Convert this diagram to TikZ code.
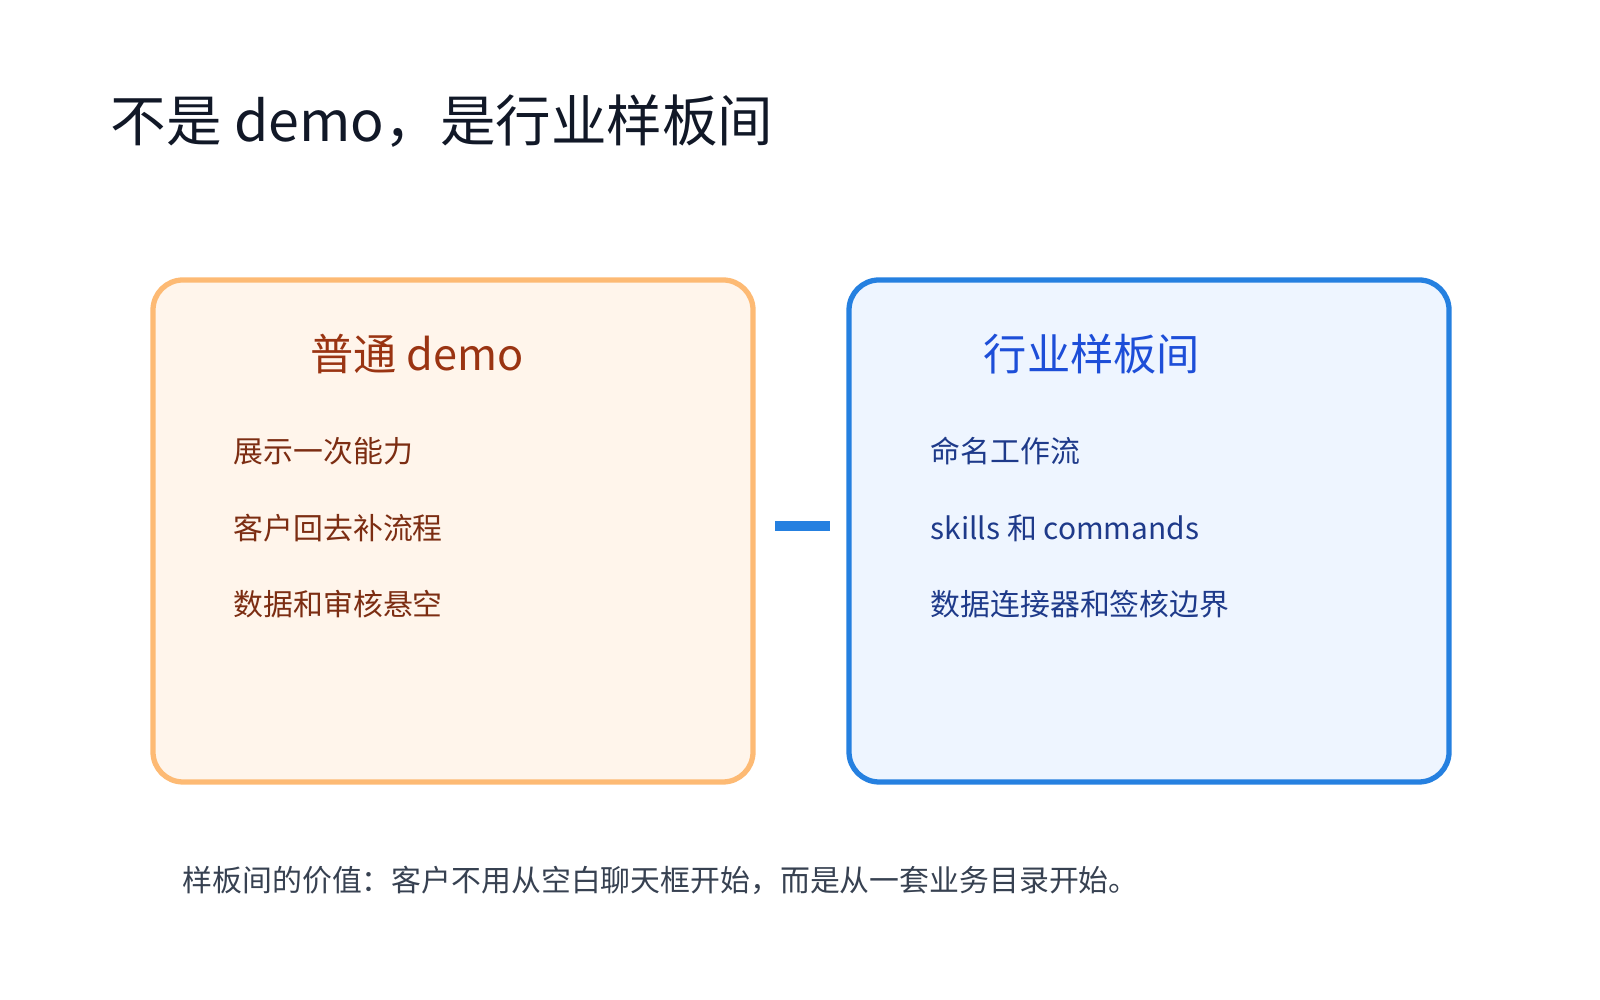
\documentclass[tikz,border=0pt]{standalone}
\usepackage{fontspec}
\setmainfont{Noto Sans CJK SC}
\definecolor{obord}{HTML}{FDBA74}
\definecolor{ofill}{HTML}{FFF5EB}
\definecolor{ohead}{HTML}{9A3412}
\definecolor{oitem}{HTML}{7C2D12}
\definecolor{bbord}{HTML}{2580E0}
\definecolor{bfill}{HTML}{EEF5FF}
\definecolor{bhead}{HTML}{1D4ED8}
\definecolor{bitem}{HTML}{1E3A8A}
\definecolor{titlec}{HTML}{111827}
\definecolor{footc}{HTML}{374151}
\tikzset{
 card/.style={rounded corners=0.3cm, line width=1.5pt, minimum width=6.0cm, minimum height=5.02cm},
 item/.style={anchor=west, inner sep=0pt, font=\fontsize{8.5pt}{10pt}\selectfont},
 head/.style={font=\fontsize{12.3pt}{15pt}\selectfont}
}
\begin{document}
\begin{tikzpicture}
\useasboundingbox (0,0) rectangle (16,10);
\node[anchor=west, inner sep=0pt, text=titlec, font=\fontsize{15.8pt}{19pt}\selectfont] (title) at (1.10,8.79) {不是 demo，是行业样板间};
\node[card, draw=obord, fill=ofill] (L) at (4.53,4.69) {};
\node[card, draw=bbord, fill=bfill] (R) at (11.49,4.69) {};
\node[head, text=ohead] (lh) at (4.17,6.46) {普通 demo};
\node[item, text=oitem] (l1) at (2.33,5.49) {展示一次能力};
\node[item, text=oitem] (l2) at (2.33,4.72) {客户回去补流程};
\node[item, text=oitem] (l3) at (2.33,3.96) {数据和审核悬空};
\node[head, text=bhead] (rh) at (10.92,6.46) {行业样板间};
\node[item, text=bitem] (r1) at (9.30,5.49) {命名工作流};
\node[item, text=bitem] (r2) at (9.30,4.72) {skills 和 commands};
\node[item, text=bitem] (r3) at (9.30,3.96) {数据连接器和签核边界};
\coordinate (c1) at (7.75,4.74);
\coordinate (c2) at (8.30,4.74);
\draw[bbord, line width=3pt] (c1) -- (c2);
\node[anchor=west, inner sep=0pt, text=footc, font=\fontsize{8.5pt}{10pt}\selectfont] (foot) at (1.82,1.20) {样板间的价值：客户不用从空白聊天框开始，而是从一套业务目录开始。};
\end{tikzpicture}
\end{document}
